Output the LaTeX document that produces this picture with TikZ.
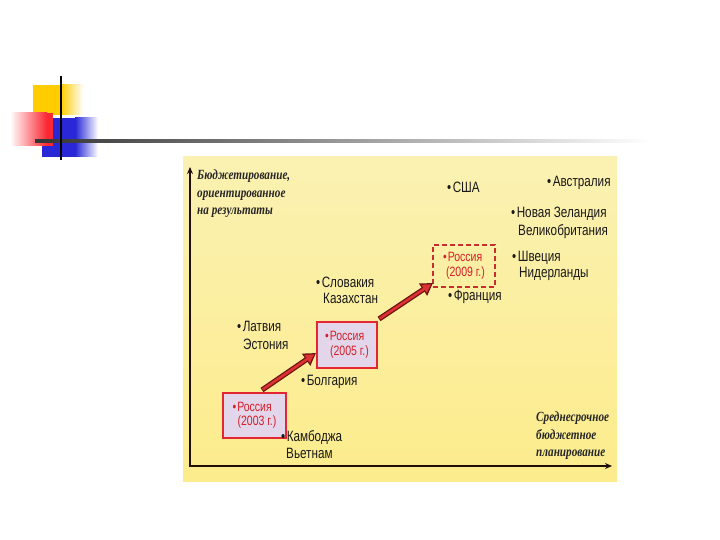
\documentclass[tikz,border=0pt]{standalone}
\usepackage{fontspec}
\setmainfont{Liberation Serif}
\newfontfamily\labfont[FakeStretch=0.78]{Liberation Sans}
\newfontfamily\axfont[FakeStretch=0.8]{Liberation Serif}
\usetikzlibrary{arrows.meta}
\definecolor{decoyel}{RGB}{255,204,0}
\definecolor{decored}{RGB}{250,40,50}
\definecolor{decoblue}{RGB}{40,40,215}
\definecolor{paneltop}{RGB}{251,241,178}
\definecolor{panelmid}{RGB}{255,254,244}
\definecolor{panelbot}{RGB}{252,236,140}
\definecolor{boxred}{RGB}{228,38,50}
\definecolor{dashred}{RGB}{196,48,48}
\definecolor{boxfill}{RGB}{228,214,234}
\definecolor{txtred}{RGB}{212,30,40}
\definecolor{arrowred}{RGB}{222,50,50}
\definecolor{arrowdark}{RGB}{110,20,20}
\definecolor{axiscol}{RGB}{30,15,10}
\tikzset{
  lbl/.style={font=\labfont\fontsize{15}{16}\selectfont, anchor=base west, inner sep=0pt, text=black!90},
  rbox/.style={font=\labfont\fontsize{13.5}{14.5}\selectfont, text=txtred, align=left, inner sep=0pt},
  solidbox/.style={rbox, draw=boxred, line width=2pt, fill=boxfill},
  dashbox/.style={rbox, draw=dashred, line width=2pt, dash pattern=on 5pt off 3pt},
  axisline/.style={draw=axiscol, line width=2.6pt, -{Stealth[length=7pt,width=6pt]}},
  axlabel/.style={font=\axfont\fontsize{14}{17.5}\selectfont\bfseries\itshape, align=left, inner sep=0pt, anchor=north west, text=black!85},
  arrowout/.style={draw=arrowdark, line width=5.2pt, -{Triangle[length=12pt,width=14pt]}},
  arrowin/.style={draw=arrowred, line width=2.6pt, shorten >=2.2pt, shorten <=0.9pt, -{Triangle[length=8.5pt,width=9pt]}}
}
\begin{document}
\begin{tikzpicture}[x=1pt,y=-1pt]
\useasboundingbox (0,0) rectangle (720,540);
\fill[white] (0,0) rectangle (720,540);
% decoration
\fill[decoyel] (33,85) rectangle (61,115);
\shade[left color=decoyel, right color=white] (61,85) rectangle (83,115);
\shade[left color=white, right color=decored] (10,113) rectangle (47,146);
\fill[decored] (47,113) rectangle (53,146);
\fill[decoblue] (53,118) rectangle (75,157);
\shade[left color=decoblue, right color=white] (75,118) rectangle (98,157);
\fill[decoblue] (42,146) rectangle (53,157);
\shade[left color=black!80, right color=white] (35,139.6) rectangle (650,142.6);
\draw[line width=2.5pt, black] (61,76) -- (61,160);
% panel
\shade[top color=paneltop, middle color=panelmid, bottom color=panelbot] (183,157) rectangle (617,481);
% axes
\coordinate (o) at (190,466);
\coordinate (ytip) at (190,167);
\coordinate (xtip) at (612,466);
\draw[axisline] (190,467.3) -- (ytip);
\draw[axisline] (188.7,466) -- (xtip);
\node[axlabel] (ylab) at (197,170) {Бюджетирование,\\ориентированное\\на результаты};
\node[axlabel] (xlab) at (536,412) {Среднесрочное\\бюджетное\\планирование};
% country labels
\node[lbl] (usa) at (447,193) {•\hspace{1.5pt}США};
\node[lbl] (aus) at (547,187) {•\hspace{1.5pt}Австралия};
\node[lbl] (nz) at (511,218) {•\hspace{1.5pt}Новая Зеландия};
\node[lbl] (uk) at (518,236) {Великобритания};
\node[lbl] (swe) at (512,261) {•\hspace{1.5pt}Швеция};
\node[lbl] (nl) at (519,277) {Нидерланды};
\node[lbl] (fra) at (448,300) {•\hspace{1.5pt}Франция};
\node[lbl] (svk) at (316,287) {•\hspace{1.5pt}Словакия};
\node[lbl] (kaz) at (323,303) {Казахстан};
\node[lbl] (lat) at (237,331) {•\hspace{1.5pt}Латвия};
\node[lbl] (est) at (243,349) {Эстония};
\node[lbl] (bul) at (301,385) {•\hspace{1.5pt}Болгария};
% boxes
\node[solidbox, minimum width=63pt, minimum height=45pt] (b03) at (254.5,415.5) {•\hspace{1pt}Россия\\\hspace{5pt}(2003 г.)};
\node[lbl] (kam) at (281,441) {•\hspace{1.5pt}Камбоджа};
\node[lbl] (vie) at (286,458) {Вьетнам};
\node[solidbox, minimum width=60pt, minimum height=46pt] (b05) at (347,345) {•\hspace{1pt}Россия\\\hspace{5pt}(2005 г.)};
\node[dashbox, minimum width=62pt, minimum height=42pt] (b09) at (464,266) {•\hspace{1pt}Россия\\\hspace{3pt}(2009 г.)};
% arrows
\coordinate (s1) at (262,390);
\coordinate (t1) at (316,353);
\coordinate (s2) at (379,319);
\coordinate (t2) at (433,283);
\draw[arrowout] (s1) -- (t1);
\draw[arrowin] (s1) -- (t1);
\draw[arrowout] (s2) -- (t2);
\draw[arrowin] (s2) -- (t2);
\end{tikzpicture}
\end{document}
